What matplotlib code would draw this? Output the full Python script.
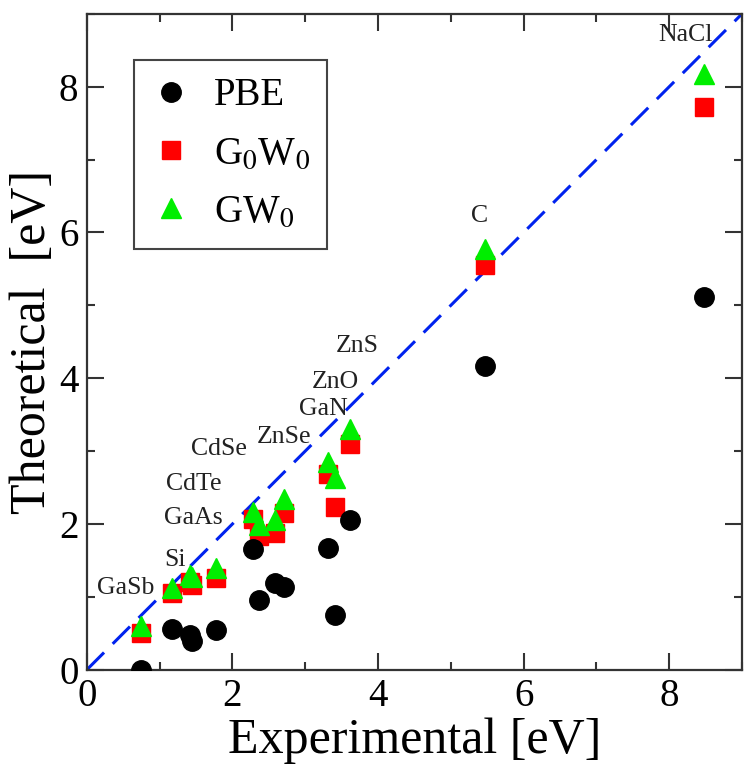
import matplotlib
matplotlib.use('Agg')
import matplotlib.pyplot as plt
from matplotlib.ticker import MultipleLocator

plt.rcParams['font.family'] = ['Liberation Serif', 'DejaVu Serif']
plt.rcParams['mathtext.fontset'] = 'stix'

# band gaps (eV)
experimental = [0.74, 1.17, 1.42, 1.45, 1.77, 2.28, 2.37, 2.59, 2.71, 3.32, 3.41, 3.61, 5.47, 8.48]
pbe = [0.00, 0.56, 0.48, 0.40, 0.55, 1.66, 0.96, 1.19, 1.14, 1.67, 0.75, 2.05, 4.17, 5.11]
g0w0 = [0.51, 1.05, 1.20, 1.17, 1.26, 2.07, 1.83, 1.88, 2.15, 2.68, 2.23, 3.10, 5.55, 7.72]
gw0 = [0.60, 1.12, 1.30, 1.27, 1.40, 2.16, 1.98, 2.05, 2.35, 2.85, 2.63, 3.31, 5.78, 8.18]

# material names and where they are written
names = ['GaSb', 'Si', 'GaAs', 'CdTe', 'CdSe', 'ZnSe', 'GaN', 'ZnO', 'ZnS', 'C', 'NaCl']
name_x = [0.54, 1.21, 1.46, 1.47, 1.82, 2.71, 3.25, 3.41, 3.71, 5.40, 8.23]
name_y = [1.12, 1.51, 2.08, 2.55, 3.03, 3.20, 3.58, 3.95, 4.44, 6.23, 8.71]

fig = plt.figure(figsize=(7.48, 7.69), dpi=100)
ax = fig.add_axes([0.116, 0.129, 0.876, 0.853])

ax.plot([0, 9], [0, 9], color='#0022ee', lw=2.2, dashes=(8, 4), zorder=1)

h2, = ax.plot(experimental, g0w0, ls='none', marker='s', ms=13.5, color='#ff0000', label=r'G$_{0}$W$_{0}$', zorder=2)
h3, = ax.plot(experimental, gw0, ls='none', marker='^', ms=15, color='#00ee00', label=r'GW$_{0}$', zorder=3)
h1, = ax.plot(experimental, pbe, ls='none', marker='o', ms=14, color='black', label='PBE', zorder=4)

for n, x, y in zip(names, name_x, name_y):
    ax.text(x, y, n, fontsize=18.5, color='#222222', ha='center', va='center')

ax.set_xlim(0, 9)
ax.set_ylim(0, 9)
ax.xaxis.set_major_locator(MultipleLocator(2))
ax.xaxis.set_minor_locator(MultipleLocator(1))
ax.yaxis.set_major_locator(MultipleLocator(2))
ax.yaxis.set_minor_locator(MultipleLocator(1))
ax.tick_params(which='both', direction='in', top=True, right=True, width=1.5, color='#333333', labelsize=28)
ax.tick_params(which='major', length=12, pad=6)
ax.tick_params(which='minor', length=6)
for s in ax.spines.values():
    s.set_linewidth(1.6)
    s.set_color('#333333')

ax.set_xlabel('Experimental [eV]', fontsize=36, labelpad=2)
ax.set_ylabel('Theoretical  [eV]', fontsize=36, labelpad=2)

leg = ax.legend(handles=[h1, h2, h3], loc='upper left', bbox_to_anchor=(0.072, 0.93),
                borderaxespad=0, fontsize=28, fancybox=False, framealpha=1,
                edgecolor='#444444', handlelength=1.0, handletextpad=0.6,
                labelspacing=0.55, borderpad=0.45)
leg.get_frame().set_linewidth(1.5)

plt.savefig('out.png')
